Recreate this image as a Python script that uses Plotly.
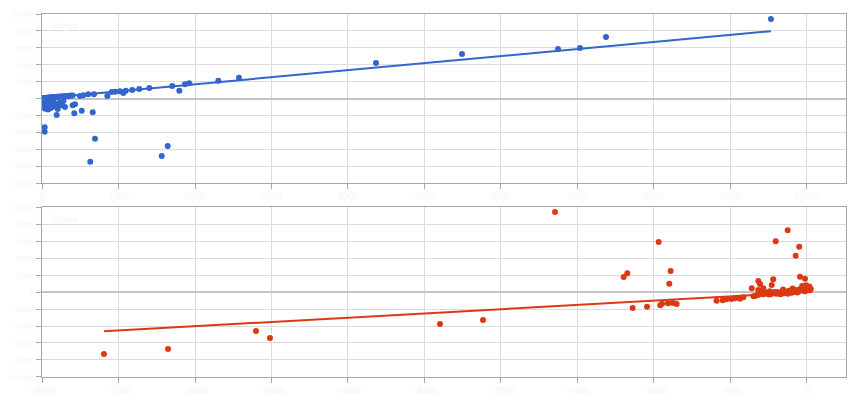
import numpy as np
import plotly.graph_objects as go

# ---- top series (blue) ----
top_x = [9529, 7373, 7033, 6745, 5490, 4366, 2575, 2305, 1925, 1869, 1795, 1703, 1403, 1272,
         1180, 1094, 1020, 958, 911, 854, 1063, 680, 605, 540, 497, 663, 519, 422, 431, 401,
         301, 192, 693, 631, 1643, 1565, 35, 35,
         5, 10, 15, 20, 25, 30, 40, 50, 60, 70, 80, 90, 100, 110, 120, 130, 140, 150, 160, 170,
         180, 200, 220, 240, 260, 280, 300, 320, 340, 360, 380, 400,
         8, 18, 28, 38, 48, 58, 68, 78, 88, 98, 108, 118, 128, 138, 150, 165, 185, 205, 230,
         255, 280]
top_y = [9408, 7278, 5976, 5858, 5266, 4201, 2462, 2107, 1799, 1680, 923, 1479, 1243, 1124,
         1006, 923, 852, 805, 769, 296, 651, 497, 497, 379, 296, -1633, -1444, -1751, -686, -805,
         -1006, -1953, -4757, -7479, -5621, -6805, -3408, -3929,
         20, -30, 50, -80, 60, -120, 70, 40, 90, 60, 110, 80, 120, 100, 150, 130, 160, 140, 170,
         150, 190, 200, 210, 230, 250, 260, 280, 300, 310, 330, 350, 370,
         -300, -600, -900, -1200, -450, -750, -1050, -1300, -500, -850, -1150, -400, -700, -1000,
         -350, -600, -900, -1250, -500, -800, -300]
# linear trendline coefficients (slope, intercept)
top_trend = [0.835, 15]

# ---- bottom series (red) ----
bot_x = [-7352, -6682, -5762, -5616, -3838, -3388, -2635, -1917, -1879, -1823, -1673, -1551,
         -1426, -1440, -1534, -1516, -1454, -1404, -1363, -945, -882, -840, -788, -753, -701,
         -666, -202, -327, -81, -118, -73, -21, -353, -509, -491, -578, -509, -457, -369,
         -480, -460, -440, -420, -400, -380, -360, -340, -320, -300, -280, -260, -240, -220,
         -200, -180, -160, -140, -120, -100, -80, -60, -40, -20, 0, 20, 40,
         -470, -430, -390, -350, -310, -270, -230, -190, -150, -110, -70, -30, 10, 30,
         -250, -150, -50, -10, 25, -560, -540, -520, -500]
bot_y = [-7294, -6706, -4588, -5412, -3765, -3294, 9412, 1765, 2200, -1882, -1729, 5882,
         2471, 976, -1565, -1376, -1329, -1294, -1412, -1024, -976, -859, -824, -741, -788,
         -624, 7259, 5965, 5329, 4271, 1800, 1565, 1494, 1294, 941, 435, 235, 435, 824,
         -150, -250, -200, -100, -300, -250, -150, 0, -200, -100, -250, 50, -150, -50,
         -200, 100, -100, 0, 200, -50, 150, 300, 400, 100, 500, 250, 350,
         50, -50, 100, -150, 0, -200, -100, 150, 50, 250, 350, 450, 600, 200,
         300, 400, 700, 800, 650, -500, -450, -350, -300]
bot_trend = [0.626, -14]

label = "Pagos"
blue = "#3366cc"
red = "#dc3912"

fig = go.Figure()


def add_series(x, y, trend, color, xa, ya):
    x = np.array(x, float)
    y = np.array(y, float)
    m, b = trend
    xs = np.array([x.min(), x.max()])
    fig.add_trace(go.Scatter(x=xs, y=m * xs + b, mode="lines", xaxis=xa, yaxis=ya,
                             line=dict(color=color, width=2), hoverinfo="skip",
                             showlegend=False))
    fig.add_trace(go.Scatter(x=x, y=y, mode="markers", xaxis=xa, yaxis=ya,
                             marker=dict(color=color, size=6), showlegend=False))


add_series(top_x, top_y, top_trend, blue, "x", "y")
add_series(bot_x, bot_y, bot_trend, red, "x2", "y2")

faint = "#f7f3f7"
axis_common = dict(showgrid=True, gridcolor="#dcdcdc", gridwidth=1,
                   showline=True, linecolor="#a8a8a8", linewidth=1, mirror=True,
                   ticks="outside", ticklen=5, tickcolor="#a8a8a8",
                   tickfont=dict(color=faint, size=9, family="Roboto"),
                   tickformat="d", automargin=False, zeroline=False)

fig.update_layout(
    xaxis=dict(range=[0, 10510], dtick=1000, tick0=0, anchor="y", **axis_common),
    yaxis=dict(range=[-10000, 10000], dtick=2000, domain=[0.5344, 1], anchor="x",
               **axis_common),
    xaxis2=dict(range=[-8000, 408], dtick=800, tick0=-8000, anchor="y2", **axis_common),
    yaxis2=dict(range=[-10000, 10000], dtick=2000, domain=[0, 0.4683], anchor="x2",
                **axis_common),
)
fig.update_yaxes(zeroline=True, zerolinecolor="#c4c4c4", zerolinewidth=2,
                 tickfont=dict(color=faint, size=8, family="Roboto"), ticklabelstandoff=0)

fig.add_annotation(text=label, xref="x domain", yref="y domain", x=0.01, y=0.97,
                   xanchor="left", yanchor="top", showarrow=False,
                   font=dict(color=faint, size=9, family="Roboto"))
fig.add_annotation(text=label, xref="x2 domain", yref="y2 domain", x=0.01, y=0.97,
                   xanchor="left", yanchor="top", showarrow=False,
                   font=dict(color=faint, size=9, family="Roboto"))

# the page body adds an 8px margin, so the figure is sized to fit the window
fig.update_layout(width=852, height=392, margin=dict(l=34, r=14, t=6, b=23),
                  plot_bgcolor="white", paper_bgcolor="white")

fig.write_html("out.html")
